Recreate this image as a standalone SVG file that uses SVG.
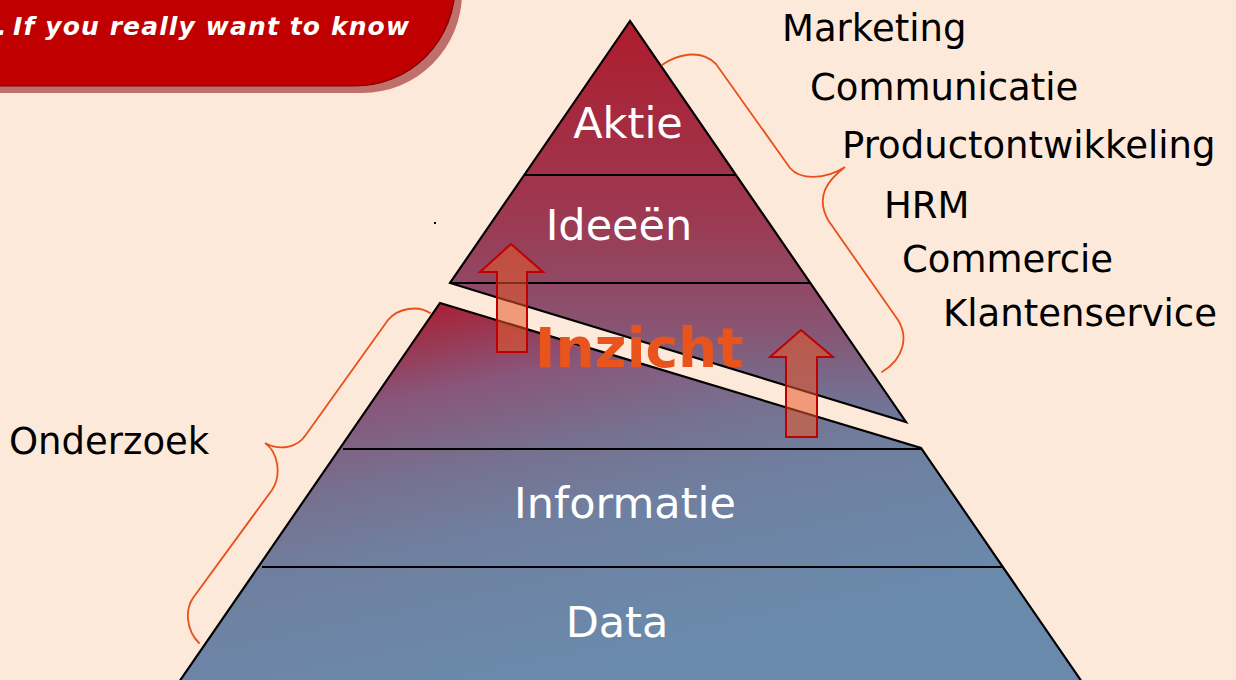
<svg xmlns="http://www.w3.org/2000/svg" width="1236" height="680" viewBox="0 0 1236 680">
  <defs>
    <linearGradient id="gTop" gradientUnits="userSpaceOnUse" x1="0" y1="21" x2="0" y2="422">
      <stop offset="0" stop-color="#AE1C2D"/>
      <stop offset="0.5" stop-color="#9C3A53"/>
      <stop offset="0.75" stop-color="#8A5270"/>
      <stop offset="1" stop-color="#6C7A9C"/>
    </linearGradient>
    <linearGradient id="gBot" gradientUnits="userSpaceOnUse" x1="440" y1="303" x2="520" y2="680">
      <stop offset="0" stop-color="#A82034"/>
      <stop offset="0.22" stop-color="#88567A"/>
      <stop offset="0.42" stop-color="#77708F"/>
      <stop offset="0.62" stop-color="#6F80A0"/>
      <stop offset="1" stop-color="#6A8AAC"/>
    </linearGradient>
    <style>
      .lvl { font-family: "DejaVu Sans", Verdana, sans-serif; font-size: 43px; fill: #FFFFFF; text-anchor: middle; }
      .lab { font-family: "DejaVu Sans", Verdana, sans-serif; font-size: 37px; fill: #000000; }
      .edge { stroke: #000000; stroke-width: 2.2; stroke-linejoin: miter; }
      .brace { fill: none; stroke: #E8501A; stroke-width: 1.8; stroke-linecap: round; }
      .arrow { fill: #E65A2A; fill-opacity: 0.55; stroke: #C00000; stroke-width: 2; }
    </style>
  </defs>

  <rect width="1236" height="680" fill="#FCE9DA"/>

  <g id="banner">
    <rect x="-100" y="-114" width="562" height="207" rx="100" fill="#C0706A"/>
    <rect x="-100" y="-120" width="555" height="206" rx="100" fill="#C00000" stroke="#800000" stroke-width="1.2"/>
    <text x="-3" y="35" font-family="'DejaVu Sans', Verdana, sans-serif" font-size="25" font-weight="bold" font-style="italic" fill="#FFFFFF">.</text>
    <text x="13" y="35" font-family="'DejaVu Sans', Verdana, sans-serif" font-size="25" font-weight="bold" font-style="italic" fill="#FFFFFF" textLength="396" lengthAdjust="spacing">If you really want to know</text>
  </g>

  <g id="pyramid-top">
    <polygon points="630,21 450,283 906,422" fill="url(#gTop)" class="edge"/>
    <line x1="525" y1="175" x2="736" y2="175" class="edge"/>
    <line x1="450" y1="283" x2="810" y2="283" class="edge"/>
  </g>

  <g id="pyramid-bottom">
    <polygon points="440,303 921,448 1082,682 179,682" fill="url(#gBot)" class="edge"/>
    <line x1="343" y1="449" x2="921" y2="449" class="edge"/>
    <line x1="262" y1="567" x2="1002" y2="567" class="edge"/>
  </g>

  <g id="level-aktie"><text class="lvl" x="628" y="138">Aktie</text></g>
  <g id="level-ideeen"><text class="lvl" x="619" y="240">Ideeën</text></g>
  <g id="level-informatie"><text class="lvl" x="625" y="518">Informatie</text></g>
  <g id="level-data"><text class="lvl" x="617" y="637">Data</text></g>

  <g id="arrow-left">
    <path class="arrow" d="M511,244 L543,272 L527,272 L527,352 L497,352 L497,272 L480,272 Z"/>
  </g>
  <g id="arrow-right">
    <path class="arrow" d="M801,330 L833,357 L817,357 L817,437 L786,437 L786,357 L770,357 Z"/>
  </g>

  <g id="inzicht">
    <text x="535" y="367" font-family="'DejaVu Sans', Verdana, sans-serif" font-size="55" font-weight="bold" fill="#E8541C">Inzicht</text>
  </g>

  <g id="connectors">
    <path class="brace" d="M662,65 C676,55 700,48 716,64 L790,168 C800,180 825,180 845,167 C828,180 815,196 828,220 L898,320 C908,336 905,358 882,372"/>
    <path class="brace" d="M430,313 C418,305 398,308 388,320 L305,436 C298,446 282,452 265,443 C278,452 282,475 272,490 L193,598 C185,610 186,630 199,643"/>
  </g>

  <g id="labels-right">
    <text class="lab" x="782" y="41">Marketing</text>
    <text class="lab" x="810" y="100">Communicatie</text>
    <text class="lab" x="842" y="158">Productontwikkeling</text>
    <text class="lab" x="884" y="218">HRM</text>
    <text class="lab" x="902" y="272">Commercie</text>
    <text class="lab" x="943" y="326">Klantenservice</text>
  </g>

  <g id="label-onderzoek">
    <text class="lab" x="9" y="454">Onderzoek</text>
  </g>

  <rect x="434" y="222" width="2" height="2" fill="#000000"/>
</svg>
